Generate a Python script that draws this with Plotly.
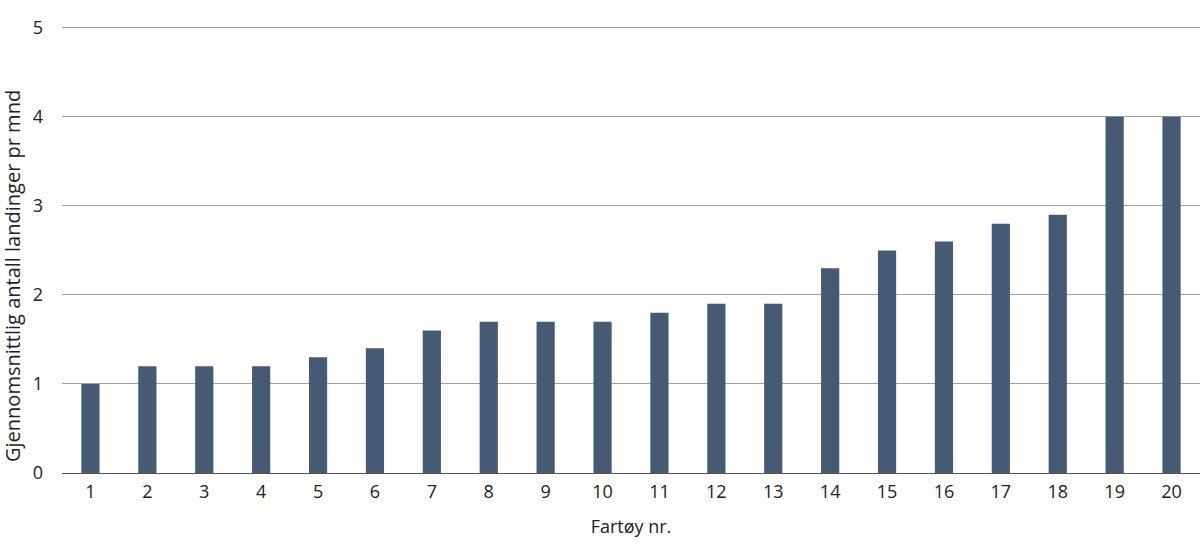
import plotly.graph_objects as go

categories = [str(i) for i in range(1, 21)]
values = [1.0, 1.2, 1.2, 1.2, 1.3, 1.4, 1.6, 1.7, 1.7, 1.7, 1.8, 1.9, 1.9, 2.3, 2.5, 2.6, 2.8, 2.9, 4.0, 4.0]
y_ticks = [0, 1, 2, 3, 4, 5]
x_title = "Fartøy nr."
y_title = "Gjennomsnittlig antall landinger pr mnd"

fig = go.Figure(go.Bar(x=categories, y=values, marker=dict(color="#465a73", line=dict(width=0)), width=0.32))

font = "Open Sans, Lato, sans-serif"
fig.update_layout(
    width=1200, height=558,
    margin=dict(l=62, r=0, t=26, b=85),
    plot_bgcolor="white", paper_bgcolor="white",
    showlegend=False,
    font=dict(family=font, size=18, color="#222"),
    xaxis=dict(
        type="category", showgrid=False, showline=False, ticks="",
        tickfont=dict(size=18), ticklabelstandoff=6,
        title=dict(text=x_title, font=dict(size=18), standoff=18),
    ),
    yaxis=dict(
        range=[0, 5.02], tickvals=y_ticks, showgrid=True, gridcolor="#a0a0a0", gridwidth=1,
        zeroline=True, zerolinecolor="#555", zerolinewidth=1, showline=False, ticks="",
        tickfont=dict(size=18), ticklabelstandoff=18,
    ),
    annotations=[dict(
        text=y_title, textangle=-90, xref="paper", yref="paper",
        x=0, y=(473 - 276) / 447, xanchor="center", yanchor="middle",
        xshift=-50, showarrow=False, font=dict(size=20, color="#222"),
    )],
)

fig.write_html("out.html", post_script="document.body.style.margin='0';",
               config={"displayModeBar": False})
